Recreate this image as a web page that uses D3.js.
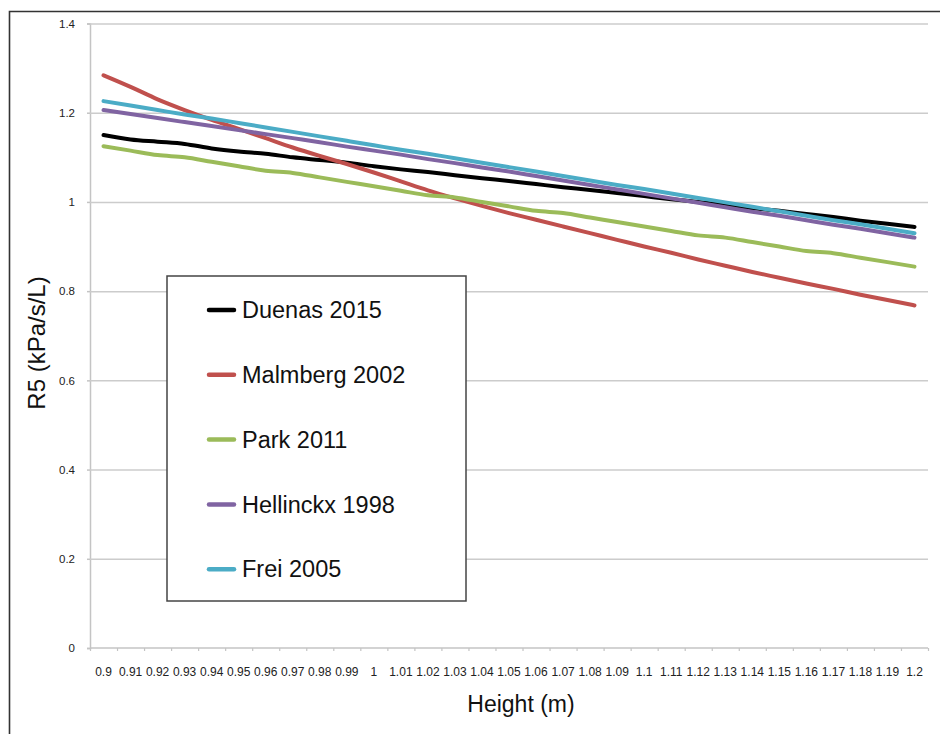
<!DOCTYPE html>
<html>
<head>
<meta charset="utf-8">
<script src="https://cdn.jsdelivr.net/npm/d3@7"></script>
<style>
  html, body { margin: 0; padding: 0; background: #fff; }
  svg { display: block; font-family: "Liberation Sans", Arial, Helvetica, sans-serif; }
</style>
</head>
<body>
<svg id="chart" width="940" height="734"></svg>
<script>
// ---- data ----
const heights = ["0.9","0.91","0.92","0.93","0.94","0.95","0.96","0.97","0.98","0.99","1","1.01","1.02","1.03","1.04","1.05","1.06","1.07","1.08","1.09","1.1","1.11","1.12","1.13","1.14","1.15","1.16","1.17","1.18","1.19","1.2"];
const seriesNames = ["Duenas 2015", "Malmberg 2002", "Park 2011", "Hellinckx 1998", "Frei 2005"];
const duenas    = [1.15,1.14,1.135,1.13,1.12,1.113,1.108,1.10,1.094,1.088,1.08,1.073,1.067,1.06,1.053,1.047,1.04,1.033,1.027,1.02,1.013,1.006,1.0,0.993,0.986,0.98,0.973,0.966,0.958,0.951,0.944];
const malmberg  = [1.284,1.258,1.230,1.206,1.184,1.164,1.143,1.122,1.103,1.085,1.066,1.046,1.026,1.008,0.991,0.975,0.960,0.945,0.930,0.915,0.900,0.886,0.871,0.857,0.843,0.830,0.817,0.805,0.792,0.780,0.768];
const park      = [1.125,1.115,1.105,1.10,1.09,1.08,1.07,1.065,1.055,1.045,1.035,1.025,1.015,1.01,1.0,0.99,0.98,0.975,0.965,0.955,0.945,0.935,0.925,0.92,0.91,0.90,0.89,0.885,0.875,0.865,0.855];
const hellinckx = [1.206,1.197,1.188,1.179,1.170,1.161,1.152,1.143,1.134,1.124,1.115,1.106,1.096,1.087,1.077,1.068,1.058,1.048,1.038,1.028,1.018,1.008,0.998,0.988,0.978,0.969,0.959,0.949,0.940,0.930,0.920];
const frei      = [1.226,1.216,1.206,1.196,1.187,1.177,1.167,1.157,1.147,1.137,1.127,1.117,1.108,1.098,1.088,1.078,1.068,1.058,1.048,1.038,1.029,1.019,1.009,0.999,0.989,0.979,0.969,0.959,0.950,0.940,0.930];
const yTicks = [0, 0.2, 0.4, 0.6, 0.8, 1, 1.2, 1.4];
const colors = ["#000000", "#c0504d", "#9bbb59", "#8064a2", "#4bacc6"];

const seriesValues = [duenas, malmberg, park, hellinckx, frei];
const series = seriesNames.map((name, k) => ({ name, color: colors[k], values: seriesValues[k] }));

// ---- layout ----
const svg = d3.select("#chart");
const plotL = 90, plotR = 928, plotT = 23.5, plotB = 648;

const x = d3.scaleBand().domain(heights).range([plotL, plotR]).paddingInner(0).paddingOuter(0);
const xBound = d3.scaleLinear().domain([0, heights.length]).range([plotL, plotR]);
const y = d3.scaleLinear().domain([0, 1.4]).range([plotB, plotT]);

// outer frame (left and top edges)
svg.append("path")
  .attr("d", "M9.5,734 L9.5,11.5 L940,11.5")
  .attr("fill", "none").attr("stroke", "#333").attr("stroke-width", 1.6);

// gridlines + y axis
const yAxis = d3.axisLeft(y).tickValues(yTicks).tickSize(3).tickPadding(12)
  .tickFormat(d => d === 0 ? "0" : String(+d.toFixed(1)));
const gy = svg.append("g").attr("transform", `translate(${plotL},0)`).call(yAxis);
gy.select(".domain").attr("stroke", "#c4c4c4").attr("stroke-width", 1.5);
gy.selectAll(".tick line").attr("stroke", "#c4c4c4").attr("stroke-width", 1.5);
gy.selectAll(".tick text").attr("font-size", 11.5).attr("fill", "#222")
  .attr("font-family", "Liberation Sans, Arial, sans-serif");
gy.selectAll(".tick").filter(d => d !== 0).append("line")
  .attr("x1", 0).attr("x2", plotR - plotL)
  .attr("stroke", "#cccccc").attr("stroke-width", 1.5);

// x axis with ticks at band boundaries
const xTickAxis = d3.axisBottom(xBound).tickValues(d3.range(heights.length + 1)).tickSize(3).tickFormat("");
const gxt = svg.append("g").attr("transform", `translate(0,${plotB})`).call(xTickAxis);
gxt.select(".domain").attr("stroke", "#c4c4c4").attr("stroke-width", 1.5).attr("d", `M${plotL},0H${plotR}`);
gxt.selectAll(".tick line").attr("stroke", "#c4c4c4").attr("stroke-width", 1.2);

const xLabelAxis = d3.axisBottom(x).tickSize(0).tickPadding(19);
const gxl = svg.append("g").attr("transform", `translate(0,${plotB})`).call(xLabelAxis);
gxl.select(".domain").remove();
gxl.selectAll(".tick text").attr("font-size", 12).attr("fill", "#222")
  .attr("font-family", "Liberation Sans, Arial, sans-serif");

// lines
const line = d3.line()
  .x((d, i) => x(heights[i]) + x.bandwidth() / 2)
  .y(d => y(d))
  .curve(d3.curveMonotoneX);

svg.append("g").selectAll("path").data(series).join("path")
  .attr("d", d => line(d.values))
  .attr("fill", "none")
  .attr("stroke", d => d.color)
  .attr("stroke-width", 4)
  .attr("stroke-linejoin", "round")
  .attr("stroke-linecap", "round");

// axis titles
svg.append("text").attr("x", 521).attr("y", 712).attr("text-anchor", "middle")
  .attr("font-size", 23).attr("fill", "#111").text("Height (m)");
svg.append("text").attr("transform", "translate(45,343) rotate(-90)").attr("text-anchor", "middle")
  .attr("font-size", 24).attr("fill", "#111").text("R5 (kPa/s/L)");

// legend
const lg = svg.append("g");
lg.append("rect").attr("x", 167).attr("y", 276).attr("width", 299).attr("height", 325)
  .attr("fill", "#fff").attr("stroke", "#444").attr("stroke-width", 1.5);
const items = lg.selectAll("g.item").data(series).join("g")
  .attr("class", "item")
  .attr("transform", (d, i) => `translate(0,${310 + i * 64.8})`);
items.append("line").attr("x1", 209).attr("x2", 234).attr("y1", 0).attr("y2", 0)
  .attr("stroke", d => d.color).attr("stroke-width", 4.5).attr("stroke-linecap", "round");
items.append("text").attr("x", 242).attr("y", 0).attr("dy", "0.35em")
  .attr("font-size", 23.5).attr("fill", "#111").text(d => d.name);
</script>
</body>
</html>
